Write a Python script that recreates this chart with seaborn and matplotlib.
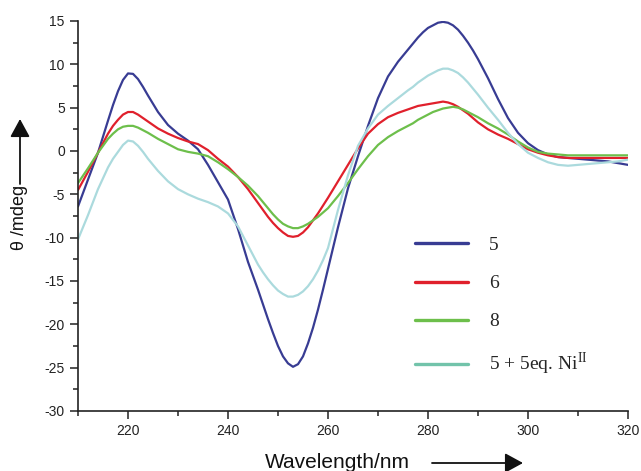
import numpy as np
import pandas as pd
import seaborn as sns
import matplotlib
matplotlib.use("Agg")
import matplotlib.pyplot as plt
from matplotlib.ticker import MultipleLocator

# wavelength (nm); denser around the extrema
wavelength = [210, 212, 214, 216, 217, 218, 219, 220, 221, 222, 223, 224,
              226, 228, 230, 232, 234, 236, 238, 240, 242, 244,
              246, 247, 248, 249, 250, 251, 252, 253, 254, 255, 256, 257, 258, 259,
              260, 262, 264, 266, 268, 270, 272, 274, 276,
              277, 278, 279, 280, 281, 282, 283, 284, 285, 286, 287, 288, 289, 290,
              292, 294, 296, 298, 300, 302, 304, 306, 308, 310, 312, 314, 316, 318, 320]

# CD signal (mdeg)
cd_5 = [-6.4, -3.3, -0.2, 3.5, 5.3, 6.9, 8.2, 8.95, 8.9, 8.3, 7.4, 6.4,
        4.5, 3.0, 2.0, 1.2, 0.2, -1.6, -3.6, -5.6, -9.0, -12.8,
        -16.0, -17.7, -19.4, -21.0, -22.5, -23.7, -24.5, -24.9, -24.6, -23.7, -22.2, -20.4, -18.3, -16.0,
        -13.6, -8.8, -4.3, -0.6, 2.9, 6.1, 8.6, 10.3, 11.7,
        12.4, 13.1, 13.7, 14.2, 14.5, 14.8, 14.9, 14.8, 14.5, 14.0, 13.3, 12.5, 11.6, 10.6,
        8.4, 6.0, 3.8, 2.1, 0.9, 0.1, -0.4, -0.7, -0.8, -0.9, -1.0, -1.1, -1.2, -1.4, -1.6]
cd_6 = [-4.5, -2.4, -0.2, 2.0, 2.9, 3.6, 4.2, 4.5, 4.5, 4.2, 3.8, 3.4,
        2.6, 2.0, 1.5, 1.1, 0.8, 0.1, -0.9, -1.8, -3.0, -4.4,
        -6.0, -6.8, -7.6, -8.3, -8.9, -9.4, -9.8, -9.9, -9.8, -9.4, -8.8, -8.0, -7.2, -6.3,
        -5.4, -3.5, -1.6, 0.3, 2.0, 3.1, 3.9, 4.4, 4.8,
        5.0, 5.2, 5.3, 5.4, 5.5, 5.6, 5.7, 5.6, 5.4, 5.1, 4.7, 4.3, 3.8, 3.3,
        2.5, 1.9, 1.4, 0.8, 0.2, -0.2, -0.5, -0.7, -0.8, -0.8, -0.8, -0.8, -0.8, -0.8, -0.8]
cd_8 = [-3.7, -2.0, -0.2, 1.4, 2.0, 2.5, 2.8, 2.9, 2.9, 2.7, 2.4, 2.1,
        1.4, 0.8, 0.2, -0.1, -0.3, -0.6, -1.3, -2.1, -3.0, -4.0,
        -5.2, -5.9, -6.6, -7.3, -7.9, -8.4, -8.7, -8.9, -8.9, -8.7, -8.4, -8.0, -7.6, -7.1,
        -6.6, -5.2, -3.7, -2.1, -0.6, 0.7, 1.6, 2.3, 2.9,
        3.2, 3.6, 3.9, 4.2, 4.5, 4.7, 4.9, 5.0, 5.1, 5.0, 4.8, 4.5, 4.2, 3.9,
        3.2, 2.6, 1.9, 1.1, 0.4, -0.1, -0.3, -0.4, -0.5, -0.5, -0.5, -0.5, -0.5, -0.5, -0.5]
cd_5ni = [-10.2, -7.4, -4.4, -1.9, -0.9, -0.1, 0.7, 1.2, 1.1, 0.6, -0.1, -0.9,
          -2.3, -3.5, -4.4, -5.0, -5.5, -5.9, -6.4, -7.2, -8.7, -10.9,
          -13.1, -14.0, -14.8, -15.5, -16.1, -16.5, -16.8, -16.8, -16.6, -16.2, -15.6, -14.8, -13.8, -12.6,
          -11.2, -6.8, -2.8, 0.6, 2.6, 4.2, 5.2, 6.1, 7.0,
          7.4, 7.9, 8.3, 8.7, 9.0, 9.3, 9.5, 9.5, 9.3, 9.0, 8.5, 7.9, 7.2, 6.5,
          5.0, 3.6, 2.1, 0.8, -0.2, -0.8, -1.3, -1.6, -1.7, -1.6, -1.5, -1.4, -1.3, -1.2, -1.0]

labels = ["5", "6", "8", "5 + 5eq. Ni$^{\\mathregular{II}}$"]
colors = ["#383c93", "#e0202c", "#6dbf4b", "#abdadd"]

rows = []
for lab, vals in zip(labels, [cd_5, cd_6, cd_8, cd_5ni]):
    for w, v in zip(wavelength, vals):
        rows.append((w, v, lab))
df = pd.DataFrame(rows, columns=["wavelength", "cd", "sample"])

sns.set_style("ticks")
plt.rcParams["font.family"] = ["Liberation Sans", "DejaVu Sans"]
plt.rcParams["axes.unicode_minus"] = False

fig = plt.figure(figsize=(6.41, 4.71), dpi=100)
ax = fig.add_axes([78 / 641, 60 / 471, 550 / 641, 390 / 471])

sns.lineplot(data=df, x="wavelength", y="cd", hue="sample", hue_order=labels,
             palette=dict(zip(labels, colors)), linewidth=1.6, ax=ax)

ax.set_xlim(210, 320)
ax.set_ylim(-30, 15)
ax.xaxis.set_major_locator(MultipleLocator(20))
ax.xaxis.set_minor_locator(MultipleLocator(10))
ax.yaxis.set_major_locator(MultipleLocator(5))
ax.yaxis.set_minor_locator(MultipleLocator(2.5))
ax.tick_params(which="major", length=6, width=1.1, labelsize=10, color="#222222",
               labelcolor="#222222")
ax.tick_params(which="minor", length=3.5, width=1.1, color="#222222")
for s in ["left", "bottom"]:
    ax.spines[s].set_linewidth(1.2)
    ax.spines[s].set_color("#222222")
sns.despine(ax=ax)

ax.set_xlabel("")
ax.set_ylabel("")
fig.text(337 / 641, 9 / 471, "Wavelength/nm", ha="center", va="center", fontsize=15,
         color="#111111")
fig.text(20 / 641, 254 / 471, "θ /mdeg", ha="center", va="center", rotation=90,
         fontsize=13, color="#111111")

arrow = dict(arrowstyle="-|>,head_length=0.55,head_width=0.3", color="#111111",
             lw=1.3, mutation_scale=20, shrinkA=0, shrinkB=0)
ax.annotate("", xy=(523, 8), xytext=(432, 8), xycoords="figure pixels",
            textcoords="figure pixels", arrowprops=arrow)
ax.annotate("", xy=(20, 352), xytext=(20, 287), xycoords="figure pixels",
            textcoords="figure pixels", arrowprops=arrow)

handles, _ = ax.get_legend_handles_labels()
leg = ax.legend(handles, labels, loc="upper left", bbox_to_anchor=(0.613, 0.447),
                frameon=False, borderpad=0, borderaxespad=0, handlelength=2.7,
                handletextpad=1.1, labelspacing=1.05,
                prop={"family": "Liberation Serif", "size": 14})
for line in leg.get_lines():
    line.set_linewidth(2.4)
leg.get_lines()[3].set_color("#72c3aa")

fig.savefig("out.png", dpi=100)
